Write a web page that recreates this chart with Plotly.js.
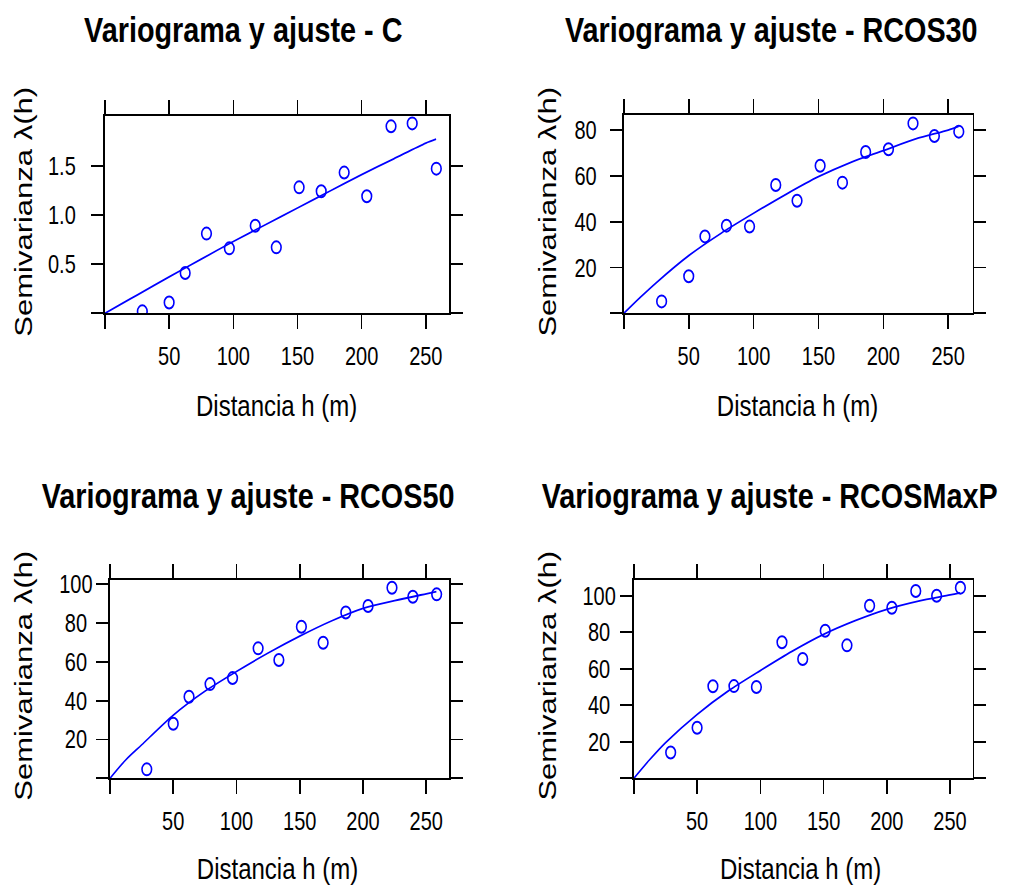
<!DOCTYPE html>
<html>
<head>
<meta charset="utf-8">
<script src="https://cdn.plot.ly/plotly-3.0.1.min.js"></script>
<style>
html,body{margin:0;padding:0;background:#fff;overflow:hidden;}
#wrap{width:1013px;height:888px;overflow:hidden;position:relative;}
#chart{position:absolute;left:0;top:0;transform-origin:0 0;}
</style>
</head>
<body>
<div id="wrap"><div id="chart"></div></div>
<script>
// ---- data ----
const panelTitles = ["Variograma y ajuste - C", "Variograma y ajuste - RCOS30",
                     "Variograma y ajuste - RCOS50", "Variograma y ajuste - RCOSMaxP"];
const lags = [29.1, 50.0, 62.5, 79.1, 96.9, 117.1, 133.5, 151.3, 168.5, 186.4, 204.0, 222.9, 239.4, 258.2];
const gammaC        = [0.02, 0.11, 0.41, 0.81, 0.66, 0.89, 0.67, 1.28, 1.24, 1.43, 1.19, 1.90, 1.93, 1.47];
const gammaRCOS30   = [5.2, 16.2, 33.6, 38.3, 37.9, 56.1, 49.2, 64.5, 57.1, 70.5, 71.7, 83.0, 77.5, 79.4];
const gammaRCOS50   = [4.6, 28.1, 42.0, 48.5, 51.6, 66.9, 60.9, 78.0, 69.8, 85.4, 88.7, 98.1, 93.5, 94.7];
const gammaRCOSMaxP = [14.1, 27.7, 50.4, 50.5, 50.0, 74.5, 65.3, 80.8, 72.8, 94.5, 93.4, 102.6, 100.0, 104.4];

const fitH          = [0, 12.5, 25, 50, 75, 100, 125, 150, 175, 200, 225, 250, 258];
const fitC          = [0, 0.093, 0.185, 0.37, 0.55, 0.73, 0.90, 1.07, 1.24, 1.41, 1.57, 1.73, 1.77];
const fitRCOS30     = [0, 6.9, 13.4, 25.2, 35.0, 43.7, 52.0, 59.7, 66.0, 71.1, 76.2, 80.1, 81.7];
const fitRCOS50     = [0, 9.5, 17.2, 32.5, 44.8, 55.0, 64.5, 73.2, 81.0, 87.5, 91.5, 95.0, 96.1];
const fitRCOSMaxP   = [0, 10.2, 19.5, 35.0, 48.0, 59.0, 69.5, 78.8, 86.3, 92.5, 97.0, 100.4, 101.6];

const xTicks = [0, 50, 100, 150, 200, 250];
const xTickText = ["", "50", "100", "150", "200", "250"];
const yTicksC = [0, 0.5, 1.0, 1.5];
const yTextC = ["", "0.5", "1.0", "1.5"];
const yTicks30 = [0, 20, 40, 60, 80];
const yText30 = ["", "20", "40", "60", "80"];
const yTicks100 = [0, 20, 40, 60, 80, 100];
const yText100 = ["", "20", "40", "60", "80", "100"];
const xLabel = "Distancia h (m)";
const yLabel = "Semivarianza λ(h)";

// ---- layout helpers ----
const W = 1013, H = 888;
const SX = 0.8;                 // the reference is horizontally condensed
const W0 = W / SX;
const px = v => v / W;          // fraction of the final (scaled) width
const py = v => 1 - v / H;
const BLUE = "#0000FF";
const FONT = "Liberation Sans, Arial, sans-serif";

document.getElementById("chart").style.transform = "scaleX(" + SX + ")";

const panels = [
  {g: gammaC, f: fitC, yt: yTicksC, ytx: yTextC, box: [105, 449, 116, 313.3], xr: 268, yr: 2.005,
   title: [243, 30], ytl: 61.7, ytitle: [23, 212], xtitle: [277, 405]},
  {g: gammaRCOS30, f: fitRCOS30, yt: yTicks30, ytx: yText30, box: [624, 973, 114.7, 313.3], xr: 269, yr: 86.8,
   title: [771, 30], ytl: 585.7, ytitle: [547, 212], xtitle: [798, 405]},
  {g: gammaRCOS50, f: fitRCOS50, yt: yTicks100, ytx: yText100, box: [110, 449, 580, 778.3], xr: 267.9, yr: 102.1,
   title: [248, 495], ytl: 76, ytitle: [23, 676], xtitle: [278, 868]},
  {g: gammaRCOSMaxP, f: fitRCOSMaxP, yt: yTicks100, ytx: yText100, box: [634, 973, 580, 778.3], xr: 268, yr: 108.6,
   title: [770, 495], ytl: 599, ytitle: [547, 676], xtitle: [801, 868]}
];

const traces = [];
const layout = {
  width: W0, height: H, margin: {l: 0, r: 0, t: 0, b: 0},
  paper_bgcolor: "#fff", plot_bgcolor: "#fff", showlegend: false,
  font: {family: FONT, color: "#000"},
  annotations: []
};

panels.forEach((p, i) => {
  const n = i + 1;
  const xa = n === 1 ? "x" : "x" + n;
  const ya = n === 1 ? "y" : "y" + n;
  traces.push({x: fitH, y: p.f, xaxis: xa, yaxis: ya, type: "scatter", mode: "lines",
               line: {color: BLUE, width: 1.8, shape: "spline", smoothing: 0.8}, hoverinfo: "skip"});
  traces.push({x: lags, y: p.g, xaxis: xa, yaxis: ya, type: "scatter", mode: "markers",
               marker: {symbol: "circle-open", size: 12, color: BLUE, line: {width: 2, color: BLUE}}});
  const [l, r, t, b] = p.box;
  layout["xaxis" + (n === 1 ? "" : n)] = {
    domain: [px(l), px(r)], anchor: ya, range: [0, p.xr], fixedrange: true,
    showgrid: false, zeroline: false, showline: true, linecolor: "#000", linewidth: 1.8,
    mirror: "ticks", ticks: "outside", ticklen: 14, tickwidth: 2, tickcolor: "#000",
    tickvals: xTicks, ticktext: xTickText, ticklabelstandoff: 6,
    tickfont: {family: FONT, size: 25, color: "#000"}
  };
  layout["yaxis" + (n === 1 ? "" : n)] = {
    domain: [py(b), py(t)], anchor: xa, range: [0, p.yr], fixedrange: true,
    showgrid: false, zeroline: false, showline: true, linecolor: "#000", linewidth: 2,
    mirror: "ticks", ticks: "outside", ticklen: 12 / SX, tickwidth: 1.8, tickcolor: "#000",
    tickvals: p.yt, showticklabels: false
  };
  // centered y tick labels (lattice style)
  p.yt.forEach((v, k) => {
    if (!p.ytx[k]) return;
    layout.annotations.push({xref: "paper", yref: ya, x: px(p.ytl), y: v, text: p.ytx[k],
      showarrow: false, xanchor: "center", yanchor: "middle",
      font: {family: FONT, size: 25, color: "#000"}});
  });
  layout.annotations.push({xref: "paper", yref: "paper", x: px(p.title[0]), y: py(p.title[1]),
    text: "<b>" + panelTitles[i] + "</b>", showarrow: false, xanchor: "center", yanchor: "middle",
    font: {family: FONT, size: 36, color: "#000"}});
  layout.annotations.push({xref: "paper", yref: "paper", x: px(p.xtitle[0]), y: py(p.xtitle[1]),
    text: xLabel, showarrow: false, xanchor: "center", yanchor: "middle",
    font: {family: FONT, size: 30, color: "#000"}});
  layout.annotations.push({xref: "paper", yref: "paper", x: px(p.ytitle[0]), y: py(p.ytitle[1]),
    text: yLabel, showarrow: false, xanchor: "center", yanchor: "middle", textangle: -90,
    font: {family: FONT, size: 31, color: "#000"}});
});

Plotly.newPlot("chart", traces, layout, {staticPlot: true, displayModeBar: false});
</script>
</body>
</html>
